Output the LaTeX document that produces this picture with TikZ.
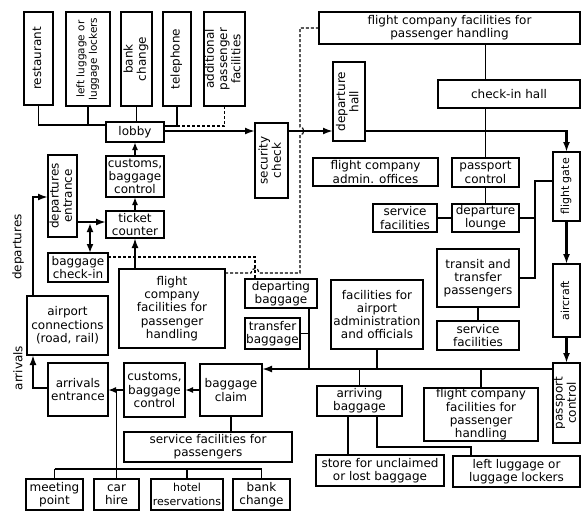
\documentclass[tikz,border=0pt]{standalone}
\usepackage{fontspec}
\setmainfont{DejaVu Sans}
\usetikzlibrary{arrows.meta,calc}
\tikzset{
  box/.style={draw, line width=1.3pt, inner sep=0pt, outer sep=0pt, align=center, font=\fontsize{12}{13.3}\selectfont},
  heavybox/.style={line width=2.8pt},
  conn/.style={line width=1.1pt},
  dconn/.style={line width=1.1pt, dash pattern=on 3pt off 2pt},
  tarr/.style={line width=2.8pt, line join=miter, -{Latex[length=10pt,width=7pt]}},
  marr/.style={line width=1.8pt, -{Latex[length=8pt,width=6pt]}},
  tline/.style={line width=2.8pt},
  lbl/.style={inner sep=0pt, font=\fontsize{12}{13.3}\selectfont},
}
\newcommand\mybox[7][]{%
  \pgfmathsetmacro\cx{(#3+#5)/2}%
  \pgfmathsetmacro\cy{(#4+#6)/2}%
  \pgfmathsetmacro\ww{#5-#3}%
  \pgfmathsetmacro\hh{#6-#4}%
  \node[box,minimum width=\ww pt,minimum height=\hh pt,#1] (#2) at (\cx,\cy) {#7};}
\newcommand\vtext[2][]{\rotatebox{90}{#1\begin{tabular}{@{}c@{}}#2\end{tabular}}}
\begin{document}
\begin{tikzpicture}[x=1pt,y=-1pt]
\useasboundingbox (0,0) rectangle (581,512);
% top row
\mybox{rest}{24}{12}{53}{105}{\vtext{restaurant}}
\mybox{leftlug}{66}{12}{110}{106}{\vtext[\fontsize{10.5}{12.5}\selectfont]{left luggage or\\luggage lockers}}
\mybox{bankch}{121}{12}{152}{106}{\vtext{bank\\change}}
\mybox{tel}{163}{12}{191}{106}{\vtext{telephone}}
\mybox{addl}{204}{12}{245}{106}{\vtext{additional\\passenger\\facilities}}
\mybox{lobby}{106}{122}{164}{142}{lobby}
\mybox{secur}{255}{123}{288}{198}{\vtext{security\\check}}
\mybox{fctop}{319}{12}{580}{44}{flight company facilities for\\passenger handling}
\mybox{dephall}{333}{62}{365}{141}{\vtext{departure\\hall}}
\mybox{checkin}{438}{80}{580}{108}{check-in hall}
\mybox{admin}{313}{158}{438}{186}{flight company\\admin. offices}
\mybox{pass1}{452}{158}{519}{187}{passport\\control}
\mybox{serv1}{373}{204}{437}{232}{service\\facilities}
\mybox{lounge}{452}{204}{519}{232}{departure\\lounge}
\mybox{gate}{553}{152}{580}{221}{\vtext[\fontsize{11}{12.5}\selectfont]{flight gate}}
\mybox{transit}{437}{249}{519}{307}{transit and\\transfer\\passengers}
\mybox{serv2}{437}{321}{519}{350}{service\\facilities}
\mybox[heavybox]{aircraft}{553}{264}{580}{337}{\vtext[\fontsize{11}{12.5}\selectfont]{aircraft}}
\mybox{pass2}{553}{363}{580}{443}{\vtext{passport\\control}}
\mybox{adminfac}{331}{280}{423}{349}{facilities for\\airport\\administration\\and officials}
\mybox{depbag}{245}{279}{317}{308}{departing\\baggage}
\mybox{trbag}{245}{318}{300}{349}{transfer\\baggage}
\mybox{arrbag}{317}{386}{402}{416}{arriving\\baggage}
\mybox{fcarr}{424}{388}{538}{441}{flight company\\facilities for\\passenger\\handling}
\mybox{store}{316}{455}{444}{486}{store for unclaimed\\or lost baggage}
\mybox{leftlugb}{453}{456}{580}{487}{left luggage or\\luggage lockers}
% left side
\mybox{claim}{200}{364}{262}{416}{baggage\\claim}
\mybox{custb}{124}{363}{185}{417}{customs,\\baggage\\control}
\mybox{arrent}{48}{363}{108}{416}{arrivals\\entrance}
\mybox[heavybox]{airport}{27}{296}{108}{355}{airport\\connections\\(road, rail)}
\mybox{depent}{48}{155}{77}{237}{\vtext{departures\\entrance}}
\mybox{ticket}{106}{211}{164}{238}{ticket\\counter}
\mybox{bagcheck}{48}{253}{108}{282}{baggage\\check-in}
\mybox{custa}{106}{156}{164}{197}{customs,\\baggage\\control}
\mybox{fcleft}{119}{269}{225}{348}{flight\\company\\facilities for\\passenger\\handling}
\mybox{servpass}{124}{432}{292}{462}{service facilities for\\passengers}
\mybox{meet}{26}{479}{83}{510}{meeting\\point}
\mybox{car}{94}{479}{139}{510}{car\\hire}
\mybox[font=\fontsize{11}{13.3}\selectfont]{hotel}{151}{479}{223}{510}{hotel\\reservations}
\mybox{bankb}{233}{479}{290}{510}{bank\\change}
% side labels
\node[lbl, rotate=90] (ldep) at (18,247) {departures};
\node[lbl, rotate=90] (larr) at (18,368) {arrivals};
% top connectors
\draw[conn] (rest.south) -- (rest.south |- 0,125) -- (lobby.west |- 0,125);
\draw[conn] (leftlug.south) -- (leftlug.south |- 0,125);
\draw[conn] (bankch.south) -- (bankch.south |- lobby.north);
\draw[conn] (tel.south) -- (tel.south |- 0,126) -- (lobby.east |- 0,126);
\draw[dconn] (tel.south |- 0,126) -- (addl.south |- 0,126) -- (addl.south);
\draw[tarr] (lobby.east |- 0,131) -- (secur.west |- 0,131);
\draw[tarr] (secur.east |- 0,131) -- (dephall.west |- 0,131);
\draw[tarr] (dephall.east |- 0,131) -- (gate.north |- 0,131) -- (gate.north);
\draw[conn] (pass1.north |- fctop.south) -- (pass1.north |- checkin.north);
\draw[conn] (pass1.north |- checkin.south) -- (pass1.north);
\draw[conn] (pass1.south) -- (lounge.north);
\draw[conn] (serv1.east) -- (lounge.west);
\draw[conn] (lounge.east) -- (lounge.east -| 535,0);
\draw[conn] (gate.west |- 0,181) -| (535,0 |- transit.east) -- (transit.east);
\draw[conn] (transit.south) -- (serv2.north);
\draw[tarr] (gate.south) -- (aircraft.north);
\draw[tarr] (aircraft.south) -- (pass2.north);
\draw[tarr] (pass2.west |- 0,369) -- (claim.east |- 0,369);
\draw[conn] (309,0 |- depbag.south) -- (309,369);
\draw[conn] (trbag.east) -- (trbag.east -| 309,0);
\draw[conn] (adminfac.south) -- (adminfac.south |- 0,369);
\draw[conn] (arrbag.north |- 0,369) -- (arrbag.north);
\draw[conn] (fcarr.north |- 0,369) -- (fcarr.north);
\draw[conn] (348,0 |- arrbag.south) -- (348,0 |- store.north);
\draw[conn] (377,0 |- arrbag.south) -- (377,447) -| (471,0 |- leftlugb.north);
% left connectors
\draw[marr] (claim.west |- 0,390) -- (custb.east |- 0,390);
\draw[marr] (custb.west |- 0,390) -- (arrent.east |- 0,390);
\draw[conn] (car.north |- 0,390) -- (car.north);
\draw[conn] (meet.north |- 0,469) -- (bankb.north |- 0,469);
\draw[conn] (meet.north |- 0,469) -- (meet.north);
\draw[conn] (hotel.north |- 0,469) -- (hotel.north);
\draw[conn] (bankb.north |- 0,469) -- (bankb.north);
\draw[conn] (claim.south) -- (claim.south |- servpass.north);
\draw[tarr] (arrent.west |- 0,388) -- (33,388) -- (33,0 |- airport.south);
\draw[tarr] (33,0 |- airport.north) -- (33,197) -- (depent.west |- 0,197);
\draw[tarr] (depent.east |- 0,222) -- (ticket.west |- 0,222);
\draw[tline, {Latex[length=9pt,width=7pt]}-{Latex[length=9pt,width=7pt]}] (90,223) -- (90,0 |- bagcheck.north);
\draw[marr] (ticket.north) -- (custa.south);
\draw[marr] (custa.north) -- (lobby.south);
\draw[tarr] (ticket.south |- fcleft.north) -- (ticket.south);
% dashed connectors
\draw[dconn] (bagcheck.east |- 0,257) -- (255,257) -- (255,0 |- depbag.north);
\draw[dconn] (fcleft.east |- 0,273) -- (251,273) .. controls (251,267) and (259,267) .. (259,273) -- (300,273) -- (300,135) .. controls (305,135) and (305,127) .. (300,127) -- (300,0 |- fctop.west) -- (fctop.west);
\end{tikzpicture}
\end{document}
